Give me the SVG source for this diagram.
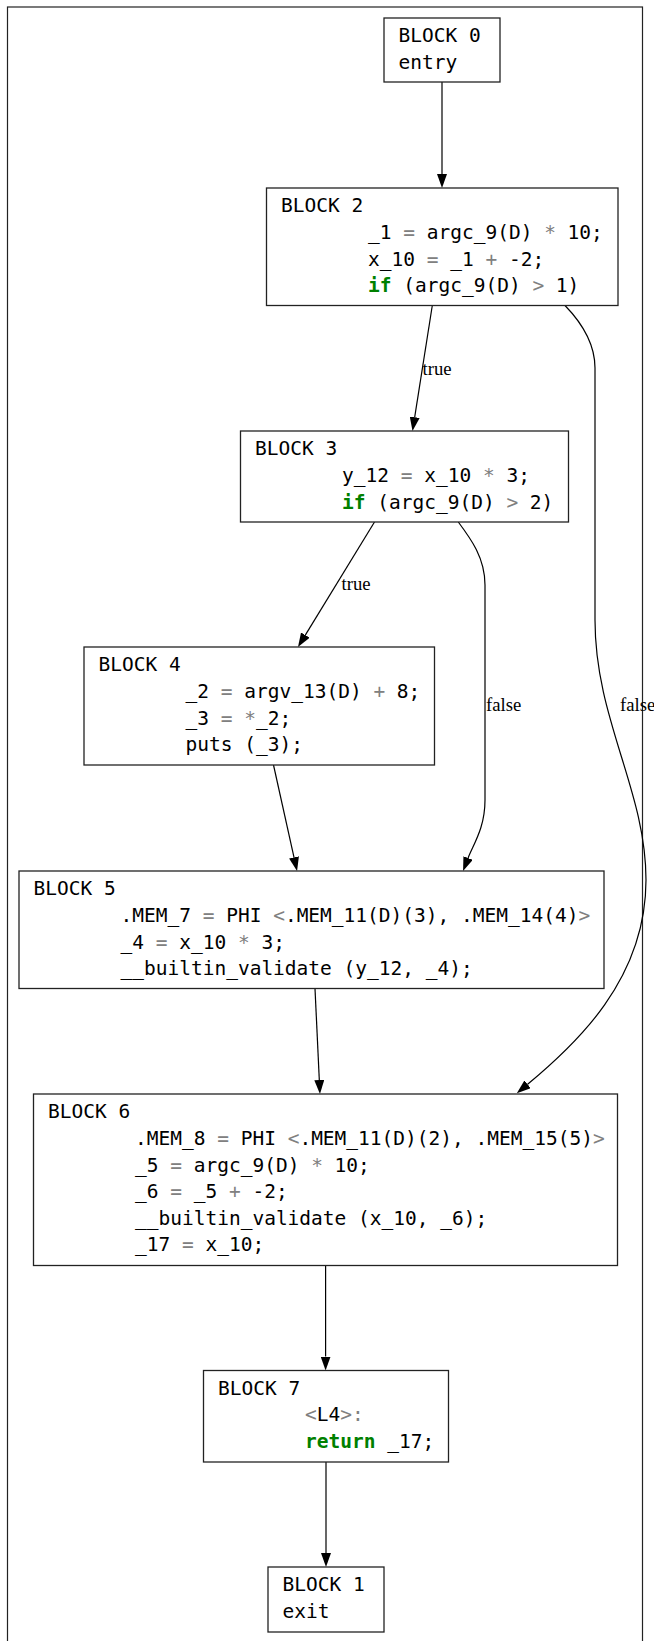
<svg xmlns="http://www.w3.org/2000/svg" width="654" height="1641" viewBox="0 0 654 1641">
  <style>
    .frame { fill: none; stroke: #222; stroke-width: 1.2; }
    .box { fill: #fff; stroke: #222; stroke-width: 1.3; }
    .code { font-family: "DejaVu Sans Mono", monospace; font-size: 19.5px; fill: #000; white-space: pre; }
    .op { fill: #808080; }
    .kw { fill: #008000; font-weight: bold; }
    .edge { fill: none; stroke: #000; stroke-width: 1.2; marker-end: url(#arrow); }
    .elabel { font-family: "Liberation Serif", "Times New Roman", serif; font-size: 18.7px; fill: #000; }
  </style>
  <defs>
    <marker id="arrow" viewBox="0 0 14 10" refX="0" refY="5" markerWidth="14" markerHeight="10" markerUnits="userSpaceOnUse" orient="auto">
      <path d="M0,0 L14,5 L0,10 z" fill="#000"/>
    </marker>
  </defs>
  <rect width="654" height="1641" fill="#fff"/>
  <!-- cluster frame (bottom edge runs off the canvas) -->
  <rect class="frame" x="7.5" y="7" width="635" height="1660"/>

  <!-- connectors -->
  <g id="edges">
    <path id="e_0_2" class="edge" d="M442,82 L442,174"/>
    <path id="e_2_3" class="edge" d="M432.3,305.5 L414.7,417.2"/>
    <text class="elabel" x="422.5" y="374.5">true</text>
    <path id="e_2_6" class="edge" d="M565,305.5 C581,322 595,342 595,368 L595,620 C595,720 646,790 646,880 C646,980 575,1045 527.6,1084.3"/>
    <text class="elabel" x="620" y="711">false</text>
    <path id="e_3_4" class="edge" d="M374.5,522 L305.3,635.1"/>
    <text class="elabel" x="341.5" y="590">true</text>
    <path id="e_3_5" class="edge" d="M458.3,522 C471,539 485,558 485,585 L485,800 C485,828 473.5,844 468.1,858"/>
    <text class="elabel" x="486" y="711">false</text>
    <path id="e_4_5" class="edge" d="M273.5,765 L294,857.3"/>
    <path id="e_5_6" class="edge" d="M315,988.5 L319.3,1080"/>
    <path id="e_6_7" class="edge" d="M325.6,1265.5 L325.6,1356.5"/>
    <path id="e_7_1" class="edge" d="M326,1462 L326,1553"/>
  </g>

  <!-- BLOCK 0 -->
  <g id="block0">
    <rect class="box" x="384" y="18" width="116" height="64"/>
    <text class="code" x="398.5" y="42.3">BLOCK 0</text>
    <text class="code" x="398.5" y="68.9">entry</text>
  </g>

  <!-- BLOCK 2 -->
  <g id="block2">
    <rect class="box" x="266.5" y="188" width="351.5" height="117.5"/>
    <text class="code" x="281" y="212.3">BLOCK 2</text>
    <text class="code" x="368" y="238.9">_1 <tspan class="op">=</tspan> argc_9(D) <tspan class="op">*</tspan> 10;</text>
    <text class="code" x="368" y="265.5">x_10 <tspan class="op">=</tspan> _1 <tspan class="op">+</tspan> -2;</text>
    <text class="code" x="368" y="292.1"><tspan class="kw">if</tspan> (argc_9(D) <tspan class="op">&gt;</tspan> 1)</text>
  </g>

  <!-- BLOCK 3 -->
  <g id="block3">
    <rect class="box" x="240.5" y="431" width="328" height="91"/>
    <text class="code" x="255" y="455.3">BLOCK 3</text>
    <text class="code" x="342" y="481.9">y_12 <tspan class="op">=</tspan> x_10 <tspan class="op">*</tspan> 3;</text>
    <text class="code" x="342" y="508.5"><tspan class="kw">if</tspan> (argc_9(D) <tspan class="op">&gt;</tspan> 2)</text>
  </g>

  <!-- BLOCK 4 -->
  <g id="block4">
    <rect class="box" x="84" y="647" width="350.5" height="118"/>
    <text class="code" x="98.5" y="671.3">BLOCK 4</text>
    <text class="code" x="185.5" y="697.9">_2 <tspan class="op">=</tspan> argv_13(D) <tspan class="op">+</tspan> 8;</text>
    <text class="code" x="185.5" y="724.5">_3 <tspan class="op">=</tspan> <tspan class="op">*</tspan>_2;</text>
    <text class="code" x="185.5" y="751.1">puts (_3);</text>
  </g>

  <!-- BLOCK 5 -->
  <g id="block5">
    <rect class="box" x="19" y="871" width="585" height="117.5"/>
    <text class="code" x="33.5" y="895.3">BLOCK 5</text>
    <text class="code" x="120.5" y="921.9">.MEM_7 <tspan class="op">=</tspan> PHI <tspan class="op">&lt;</tspan>.MEM_11(D)(3), .MEM_14(4)<tspan class="op">&gt;</tspan></text>
    <text class="code" x="120.5" y="948.5">_4 <tspan class="op">=</tspan> x_10 <tspan class="op">*</tspan> 3;</text>
    <text class="code" x="120.5" y="975.1">__builtin_validate (y_12, _4);</text>
  </g>

  <!-- BLOCK 6 -->
  <g id="block6">
    <rect class="box" x="33.5" y="1094" width="584" height="171.5"/>
    <text class="code" x="48" y="1118.3">BLOCK 6</text>
    <text class="code" x="135" y="1144.9">.MEM_8 <tspan class="op">=</tspan> PHI <tspan class="op">&lt;</tspan>.MEM_11(D)(2), .MEM_15(5)<tspan class="op">&gt;</tspan></text>
    <text class="code" x="135" y="1171.5">_5 <tspan class="op">=</tspan> argc_9(D) <tspan class="op">*</tspan> 10;</text>
    <text class="code" x="135" y="1198.1">_6 <tspan class="op">=</tspan> _5 <tspan class="op">+</tspan> -2;</text>
    <text class="code" x="135" y="1224.7">__builtin_validate (x_10, _6);</text>
    <text class="code" x="135" y="1251.3">_17 <tspan class="op">=</tspan> x_10;</text>
  </g>

  <!-- BLOCK 7 -->
  <g id="block7">
    <rect class="box" x="203.5" y="1370.5" width="245" height="91.5"/>
    <text class="code" x="218" y="1394.8">BLOCK 7</text>
    <text class="code" x="305" y="1421.4"><tspan class="op">&lt;</tspan>L4<tspan class="op">&gt;:</tspan></text>
    <text class="code" x="305" y="1448"><tspan class="kw">return</tspan> _17;</text>
  </g>

  <!-- BLOCK 1 -->
  <g id="block1">
    <rect class="box" x="268" y="1567" width="116" height="65"/>
    <text class="code" x="282.5" y="1591.3">BLOCK 1</text>
    <text class="code" x="282.5" y="1617.9">exit</text>
  </g>
</svg>
